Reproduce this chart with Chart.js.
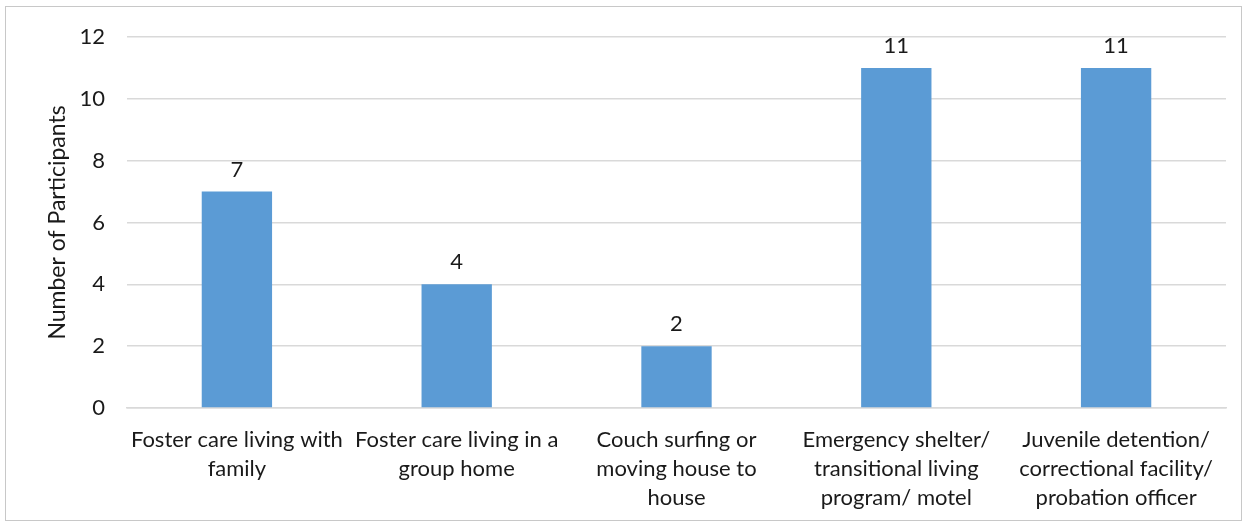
<!DOCTYPE html>
<html>
<head>
<meta charset="utf-8">
<script src="https://cdn.jsdelivr.net/npm/chart.js@4.4.0/dist/chart.umd.min.js"></script>
<style>
  html, body { margin: 0; padding: 0; background: #fff; }
  #wrap {
    position: absolute; left: 5px; top: 6px;
    width: 1237px; height: 515px;
    border: 1px solid #c8c8c8; box-sizing: border-box;
  }
</style>
</head>
<body>
<div id="wrap"><canvas id="chart"></canvas></div>
<script>
const categories = [
    ['Foster care living with', 'family'],
    ['Foster care living in a', 'group home'],
    ['Couch surfing or', 'moving house to', 'house'],
    ['Emergency shelter/', 'transitional living', 'program/ motel'],
    ['Juvenile detention/', 'correctional facility/', 'probation officer']
];
const participants = [7, 4, 2, 11, 11];
const yTicks = [0, 2, 4, 6, 8, 10, 12];

const textColor = '#1a1a1a';
const gridColor = '#d9d9d9';
const barColor = '#5b9bd5';
const fontFamily = "Lato, 'Liberation Sans', sans-serif";

Chart.defaults.font.family = fontFamily;
Chart.defaults.font.size = 22;
Chart.defaults.color = textColor;

// value labels above each bar
const barLabels = {
    id: 'barLabels',
    afterDatasetsDraw(chart) {
        const ctx = chart.ctx;
        const meta = chart.getDatasetMeta(0);
        ctx.save();
        ctx.font = '22px ' + fontFamily;
        ctx.fillStyle = textColor;
        ctx.textAlign = 'center';
        ctx.textBaseline = 'middle';
        meta.data.forEach((bar, i) => {
            ctx.fillText(String(participants[i]), bar.x, bar.y - 22);
        });
        ctx.restore();
    }
};

new Chart(document.getElementById('chart'), {
    type: 'bar',
    data: {
        labels: categories,
        datasets: [{
            data: participants,
            backgroundColor: barColor,
            borderWidth: 0,
            barPercentage: 0.32,
            categoryPercentage: 1
        }]
    },
    options: {
        responsive: true,
        maintainAspectRatio: false,
        animation: false,
        layout: { padding: { left: 34, right: 15, top: 30, bottom: 0 } },
        plugins: {
            legend: { display: false },
            tooltip: { enabled: false }
        },
        scales: {
            x: {
                grid: { display: false },
                border: { color: gridColor, width: 1.5 },
                ticks: { maxRotation: 0, autoSkip: false, padding: 10, font: { size: 22, lineHeight: 1.3 } },
                afterFit(axis) { axis.height = 112; }
            },
            y: {
                min: 0,
                max: 12,
                afterBuildTicks(axis) { axis.ticks = yTicks.map(v => ({ value: v })); },
                grid: { color: gridColor, lineWidth: 1.5, drawTicks: false },
                border: { display: false },
                ticks: { padding: 22, font: { size: 22 } },
                title: { display: true, text: 'Number of Participants', font: { size: 23 }, padding: { top: 4, bottom: 4 } },
                afterFit(axis) {
                    axis.width = 87;
                    axis.paddingTop = 0;
                    axis.paddingBottom = 0;
                }
            }
        }
    },
    plugins: [barLabels]
});
</script>
</body>
</html>
